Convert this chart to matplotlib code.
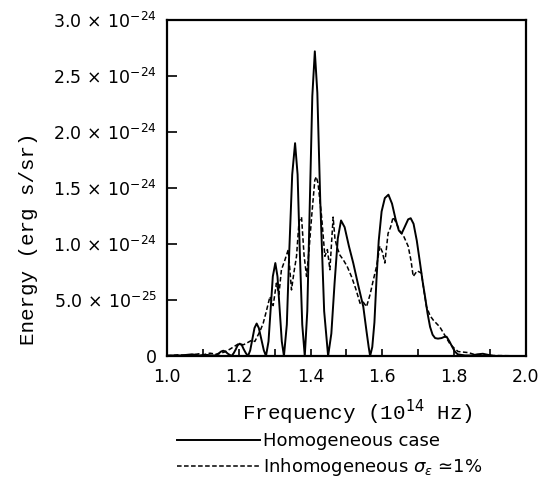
import matplotlib
matplotlib.use("Agg")
import matplotlib.pyplot as plt
from matplotlib.ticker import FixedLocator, FixedFormatter, MultipleLocator

# Frequency in units of 1e14 Hz, energy in units of 1e-25 erg s/sr
freq_homog = [1.00, 1.04, 1.07, 1.09, 1.11, 1.125, 1.135, 1.145, 1.151, 1.157,
              1.163, 1.170, 1.180, 1.186, 1.192, 1.197, 1.203, 1.209, 1.214, 1.220,
              1.226, 1.232, 1.238, 1.244, 1.250, 1.256, 1.263, 1.270, 1.276, 1.283,
              1.289, 1.295, 1.302, 1.308, 1.314, 1.320, 1.326, 1.334, 1.341, 1.349,
              1.357, 1.364, 1.370, 1.377, 1.384, 1.391, 1.398, 1.405, 1.412, 1.419,
              1.427, 1.438, 1.449, 1.458, 1.467, 1.476, 1.485, 1.495, 1.507, 1.519,
              1.533, 1.547, 1.556, 1.562, 1.566, 1.572, 1.578, 1.584, 1.590, 1.598,
              1.607, 1.617, 1.627, 1.637, 1.646, 1.654, 1.662, 1.672, 1.679, 1.687,
              1.696, 1.705, 1.712, 1.719, 1.726, 1.733, 1.740, 1.747, 1.755, 1.765,
              1.772, 1.779, 1.787, 1.795, 1.802, 1.810, 1.830, 1.850, 1.865, 1.880,
              1.895, 1.910, 2.000]
energy_homog = [0.05, 0.05, 0.15, 0.05, 0.1, 0.05, 0.05, 0.25, 0.4, 0.47,
                0.4, 0.2, 0.0, 0.25, 0.6, 0.95, 1.1, 0.95, 0.6, 0.25,
                0.0, 0.5, 1.5, 2.5, 2.9, 2.5, 1.5, 0.5, 0.0, 1.3,
                4.2, 7.1, 8.3, 7.1, 4.2, 1.3, 0.0, 2.8, 9.5, 16.2,
                19.0, 16.2, 9.5, 2.8, 0.0, 4.0, 13.6, 23.2, 27.2, 23.5,
                14.0, 4.0, 0.0, 2.0, 6.5, 10.5, 12.1, 11.5, 9.8, 8.3,
                6.3, 4.4, 2.2, 0.8, 0.0, 0.8, 3.0, 7.0, 10.3, 12.9,
                14.1, 14.4, 13.6, 12.2, 11.2, 10.95, 11.5, 12.2, 12.3, 11.8,
                10.3, 8.3, 6.7, 5.3, 3.8, 2.6, 1.9, 1.6, 1.55, 1.6,
                1.7, 1.72, 1.3, 0.8, 0.4, 0.15, 0.05, 0.05, 0.15, 0.2,
                0.1, 0.0, 0.0]

freq_inhomog = [1.00, 1.03, 1.06, 1.09, 1.10, 1.12, 1.14, 1.16, 1.175, 1.19,
                1.20, 1.213, 1.225, 1.236, 1.245, 1.259, 1.268, 1.277, 1.287, 1.296,
                1.305, 1.312, 1.319, 1.328, 1.338, 1.347, 1.354, 1.361, 1.368, 1.375,
                1.382, 1.389, 1.396, 1.403, 1.412, 1.416, 1.421, 1.431, 1.440, 1.447,
                1.454, 1.463, 1.468, 1.473, 1.482, 1.491, 1.502, 1.514, 1.526, 1.538,
                1.547, 1.556, 1.566, 1.575, 1.584, 1.593, 1.600, 1.607, 1.616, 1.623,
                1.630, 1.637, 1.644, 1.651, 1.658, 1.665, 1.672, 1.680, 1.686, 1.697,
                1.709, 1.716, 1.723, 1.733, 1.742, 1.751, 1.760, 1.775, 1.788, 1.800,
                1.811, 1.825, 1.84, 1.86, 1.90, 2.00]
energy_inhomog = [0.0, 0.1, 0.05, 0.2, 0.1, 0.25, 0.15, 0.35, 0.6, 0.9,
                  1.1, 1.0, 1.2, 1.4, 1.3, 2.2, 2.9, 4.0, 5.3, 4.5,
                  6.5, 5.5, 7.7, 8.5, 9.5, 5.9, 7.5, 8.9, 12.0, 12.4,
                  9.0, 7.1, 9.5, 12.4, 15.7, 16.0, 15.4, 12.4, 8.9, 9.5,
                  7.7, 12.4, 10.5, 9.8, 9.0, 8.6, 8.0, 7.1, 6.0, 4.7,
                  4.8, 4.4, 5.5, 6.8, 8.0, 9.8, 9.3, 8.3, 10.95, 11.5,
                  12.4, 12.0, 11.5, 11.0, 10.8, 10.3, 9.8, 8.5, 7.1, 7.6,
                  7.4, 5.8, 4.4, 3.6, 3.2, 2.9, 2.6, 1.8, 1.1, 0.7,
                  0.4, 0.35, 0.3, 0.1, 0.05, 0.0]

x_ticks = [1.0, 1.2, 1.4, 1.6, 1.8, 2.0]
x_tick_labels = ["1.0", "1.2", "1.4", "1.6", "1.8", "2.0"]
y_ticks = [0, 5, 10, 15, 20, 25, 30]
y_tick_labels = ["0",
                 r"$5.0\,\times\,10^{-25}$",
                 r"$1.0\,\times\,10^{-24}$",
                 r"$1.5\,\times\,10^{-24}$",
                 r"$2.0\,\times\,10^{-24}$",
                 r"$2.5\,\times\,10^{-24}$",
                 r"$3.0\,\times\,10^{-24}$"]

plt.rcParams["font.family"] = ["DejaVu Sans"]
plt.rcParams["mathtext.fontset"] = "dejavusans"

fig = plt.figure(figsize=(5.49, 4.87), dpi=100)
ax = fig.add_axes([0.304, 0.269, 0.654, 0.690])

solid, = ax.plot(freq_homog, energy_homog, color="black", lw=1.4,
                 solid_joinstyle="round", label="Homogeneous case")
dashed, = ax.plot(freq_inhomog, energy_inhomog, color="black", lw=1.1,
                  linestyle=(0, (3, 1.6)),
                  label="Inhomogeneous $\\sigma_{\\varepsilon}$ \u22431%")

ax.set_xlim(1.0, 2.0)
ax.set_ylim(0, 30)

ax.xaxis.set_major_locator(FixedLocator(x_ticks))
ax.xaxis.set_major_formatter(FixedFormatter(x_tick_labels))
ax.xaxis.set_minor_locator(MultipleLocator(0.1))
ax.yaxis.set_major_locator(FixedLocator(y_ticks))
ax.yaxis.set_major_formatter(FixedFormatter(y_tick_labels))

ax.tick_params(axis="x", which="both", direction="in", length=5, width=1.2,
               labelsize=12.5, pad=9, top=False)
ax.tick_params(axis="y", which="major", direction="in", length=7, width=1.2,
               labelsize=12.5, pad=7, right=False)

for side in ax.spines.values():
    side.set_linewidth(1.6)

ax.set_xlabel(r"Frequency (10$^{14}$ Hz)", family="Liberation Mono",
              fontsize=15)
ax.xaxis.set_label_coords(0.532, -0.125)
ax.set_ylabel("Energy (erg s/sr)", family="Liberation Mono", fontsize=15)
ax.yaxis.set_label_coords(-0.358, 0.35)

fig.legend(handles=[solid, dashed], loc="upper left",
           bbox_to_anchor=(0.322, 0.112), frameon=False, fontsize=13,
           handlelength=4.6, handletextpad=0.2, labelspacing=0.3,
           borderaxespad=0, borderpad=0)

fig.savefig("out.png", dpi=100)
